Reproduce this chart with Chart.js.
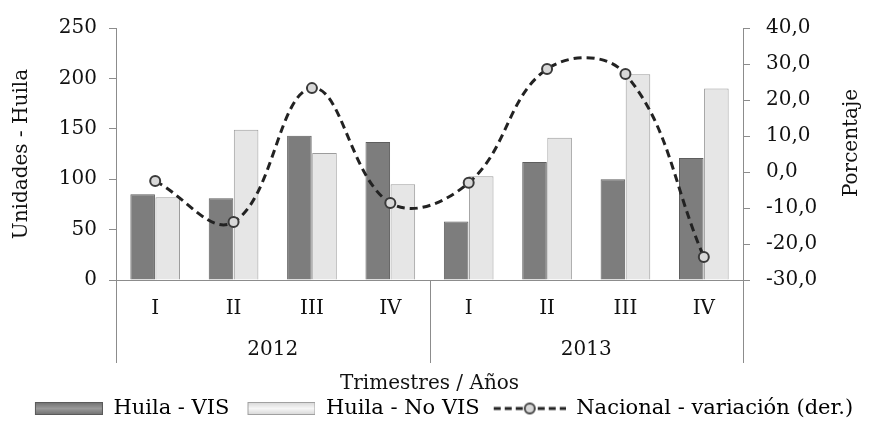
<!DOCTYPE html>
<html>
<head>
<meta charset="utf-8">
<script src="https://cdn.jsdelivr.net/npm/chart.js@4/dist/chart.umd.min.js"></script>
<style>
  html, body { margin: 0; padding: 0; background: #fff; }
  #wrap { width: 872px; height: 429px; }
</style>
</head>
<body>
<div id="wrap"><canvas id="chart"></canvas></div>
<script>
/* ── DATA ─────────────────────────────────────────────── */
const quarters = ['I', 'II', 'III', 'IV', 'I', 'II', 'III', 'IV'];
const years = ['2012', '2013'];
const huilaVis = [85, 81, 143, 137, 58, 117, 100, 121];
const huilaNoVis = [82, 149, 126, 95, 103, 141, 204, 190];
const nacionalVar = [-2.5, -13.9, 23.3, -8.6, -3.0, 28.6, 27.2, -23.6];
const unitTicks = [0, 50, 100, 150, 200, 250];
const pctTicks = [-30, -20, -10, 0, 10, 20, 30, 40];

const FONT = 'DejaVu Serif';
Chart.defaults.font.family = FONT;
Chart.defaults.font.size = 20;
Chart.defaults.color = '#111';

/* ── LEGEND SWATCHES (transparent left margin = gap between items) ── */
const SW = 84;
function swatchBox(top, bottom, stroke) {
    const c = document.createElement('canvas');
    c.width = SW; c.height = 13;
    const g = c.getContext('2d');
    const x0 = SW - 68;
    const grad = g.createLinearGradient(0, 0, 0, 13);
    grad.addColorStop(0, top);
    grad.addColorStop(0.5, bottom);
    grad.addColorStop(1, top);
    g.fillStyle = grad;
    g.fillRect(x0 + 0.5, 0.5, 67, 12);
    g.strokeStyle = stroke;
    g.strokeRect(x0 + 0.5, 0.5, 67, 12);
    return c;
}
function swatchLine() {
    const c = document.createElement('canvas');
    c.width = SW; c.height = 14;
    const g = c.getContext('2d');
    const x0 = SW - 72;
    g.strokeStyle = '#222';
    g.lineWidth = 3;
    g.setLineDash([7, 4]);
    g.beginPath(); g.moveTo(x0, 7); g.lineTo(SW, 7); g.stroke();
    g.setLineDash([]);
    g.beginPath(); g.arc(x0 + 36, 7, 5, 0, Math.PI * 2);
    g.fillStyle = '#d8d8d8'; g.fill();
    g.lineWidth = 2; g.strokeStyle = '#444'; g.stroke();
    return c;
}
const swatches = [
    swatchBox('#6e6e6e', '#9a9a9a', '#5a5a5a'),
    swatchBox('#d6d6d6', '#f6f6f6', '#a0a0a0'),
    swatchLine(),
];

/* ── YEAR GROUPS + RIGHT TITLE ────────────────────────── */
const groupPlugin = {
    id: 'groups',
    afterDraw(chart) {
        const { ctx, chartArea: a } = chart;
        const x = chart.scales.x;
        const per = quarters.length / years.length;
        ctx.save();
        ctx.strokeStyle = '#8c8c8c';
        ctx.lineWidth = 1;
        for (let g = 0; g <= years.length; g++) {
            let bx;
            if (g === 0) bx = a.left;
            else if (g === years.length) bx = a.right;
            else bx = (x.getPixelForValue(g * per - 1) + x.getPixelForValue(g * per)) / 2;
            bx = Math.round(bx) + 0.5;
            ctx.beginPath();
            ctx.moveTo(bx, a.bottom);
            ctx.lineTo(bx, a.bottom + 83);
            ctx.stroke();
        }
        ctx.fillStyle = '#111';
        ctx.font = '20px "' + FONT + '"';
        ctx.textAlign = 'center';
        ctx.textBaseline = 'middle';
        years.forEach((y, g) => {
            const cx = (x.getPixelForValue(g * per) + x.getPixelForValue(g * per + per - 1)) / 2;
            ctx.fillText(y, cx, a.bottom + 70);
        });
        ctx.translate(852, 143);
        ctx.rotate(-Math.PI / 2);
        ctx.fillText('Porcentaje', 0, 0);
        ctx.restore();
    },
};

/* ── CHART ────────────────────────────────────────────── */
new Chart(document.getElementById('chart'), {
    type: 'bar',
    data: {
        labels: quarters,
        datasets: [
            {
                label: 'Huila - VIS',
                data: huilaVis,
                backgroundColor: '#7d7d7d',
                borderColor: '#5e5e5e',
                borderWidth: 1,
                yAxisID: 'y',
                order: 2,
            },
            {
                label: 'Huila - No VIS',
                data: huilaNoVis,
                backgroundColor: '#e6e6e6',
                borderColor: '#9c9c9c',
                borderWidth: 1,
                yAxisID: 'y',
                order: 2,
            },
            {
                type: 'line',
                label: 'Nacional - variación (der.)',
                data: nacionalVar,
                borderColor: '#222',
                borderWidth: 3,
                borderDash: [8, 5],
                tension: 0.4,
                fill: false,
                pointRadius: 5,
                pointBackgroundColor: '#d8d8d8',
                pointBorderColor: '#3a3a3a',
                pointBorderWidth: 2,
                yAxisID: 'y1',
                order: 1,
            },
        ],
    },
    options: {
        responsive: true,
        maintainAspectRatio: false,
        animation: false,
        layout: { padding: { top: 27, left: 0, right: 0, bottom: 0 } },
        datasets: { bar: { categoryPercentage: 0.64, barPercentage: 0.98 } },
        plugins: {
            tooltip: { enabled: false },
            legend: {
                position: 'bottom',
                labels: {
                    usePointStyle: true,
                    pointStyleWidth: SW,
                    padding: 2,
                    color: '#111',
                    font: { size: 21 },
                    generateLabels: chart => chart.data.datasets.map((ds, i) => ({
                        text: ds.label,
                        pointStyle: swatches[i],
                        datasetIndex: i,
                        hidden: false,
                        lineWidth: 0,
                        fillStyle: 'transparent',
                        strokeStyle: 'transparent',
                    })),
                },
            },
        },
        scales: {
            x: {
                grid: { display: false, drawTicks: false },
                border: { color: '#8c8c8c' },
                ticks: { padding: 17, autoSkip: false, maxRotation: 0 },
                title: { display: true, text: 'Trimestres / Años', padding: { top: 34, bottom: 0 } },
            },
            y: {
                position: 'left',
                min: unitTicks[0],
                max: unitTicks[unitTicks.length - 1],
                ticks: { stepSize: unitTicks[1] - unitTicks[0], padding: 12 },
                grid: { drawOnChartArea: false, tickLength: 7, color: '#8c8c8c' },
                border: { color: '#8c8c8c' },
                title: { display: true, text: 'Unidades - Huila', padding: { top: 10, bottom: 0 } },
                afterFit: s => { s.width = 116; },
            },
            y1: {
                position: 'right',
                min: pctTicks[0],
                max: pctTicks[pctTicks.length - 1],
                ticks: {
                    stepSize: pctTicks[1] - pctTicks[0],
                    padding: 16,
                    callback: v => v.toFixed(1).replace('.', ','),
                },
                grid: { drawOnChartArea: false, tickLength: 7, color: '#8c8c8c' },
                border: { color: '#8c8c8c' },
                afterFit: s => { s.width = 129; },
            },
        },
    },
    plugins: [groupPlugin],
});
</script>
</body>
</html>
